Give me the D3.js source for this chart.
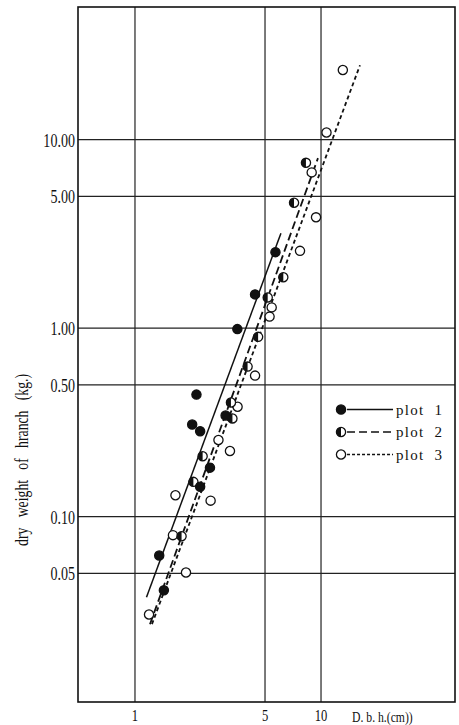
<!DOCTYPE html>
<html>
  <head>
    <meta charset="UTF-8" />
    <script src="https://cdn.jsdelivr.net/npm/d3@7"></script>
    <style>
      body { margin: 0; background: #fff; }
      text { white-space: pre; }
    </style>
  </head>
  <body>
    <svg></svg>
    <script>
      // data: D.b.h. (cm) vs dry weight of branch (kg), log-log
      const xTicks = [1, 5, 10];
      const yTicks = [0.05, 0.1, 0.5, 1, 5, 10];
      const yTickLabels = ['0.05', '0.10', '0.50', '1.00', '5.00', '10.00'];

      // [dbh, weight]
      const plot1 = [
        [5.69, 2.53], [4.42, 1.51], [3.55, 0.988], [2.14, 0.444],
        [3.07, 0.344], [2.03, 0.308], [2.24, 0.284], [2.53, 0.182],
        [2.24, 0.144], [1.35, 0.0622], [1.43, 0.0407]
      ];
      const plot2 = [
        [8.3, 7.53], [7.16, 4.62], [6.27, 1.86], [5.17, 1.455],
        [4.59, 0.899], [4.03, 0.625], [3.28, 0.403], [3.34, 0.332],
        [2.31, 0.209], [2.06, 0.153], [1.78, 0.0788]
      ];
      const plot3 = [
        [13.1, 23.4], [10.7, 10.9], [8.91, 6.7], [9.4, 3.87],
        [7.71, 2.57], [5.43, 1.288], [5.29, 1.151], [4.42, 0.56],
        [3.56, 0.383], [2.81, 0.255], [3.24, 0.223], [1.65, 0.13],
        [2.55, 0.1216], [1.6, 0.0798], [1.88, 0.0506], [1.19, 0.0303]
      ];

      // fitted regression lines, start / end
      const fit1 = [[1.153, 0.0374], [6.09, 3.19]];
      const fit2 = [[1.204, 0.0269], [9.63, 7.98]];
      const fit3 = [[1.234, 0.0269], [16.2, 24.8]];

      const legendNames = ['plot  1', 'plot  2', 'plot  3'];

      // 1. setup
      const width = 459;
      const height = 725;
      const margin = { top: 7, right: 4, bottom: 23, left: 78 };
      const ink = '#111';

      const svg = d3
        .select('svg')
        .attr('width', width)
        .attr('height', height)
        .style('font-family', '"Liberation Serif", "DejaVu Serif", serif');

      const x = d3
        .scaleLog()
        .domain([0.494, 52.5])
        .range([margin.left, width - margin.right]);
      const y = d3
        .scaleLog()
        .domain([0.0104, 50.5])
        .range([height - margin.bottom, margin.top]);

      // 2. grid
      const grid = svg.append('g').attr('stroke', '#222').attr('stroke-width', 1.2);
      grid
        .selectAll('.vx')
        .data(xTicks)
        .join('line')
        .attr('x1', (d) => x(d))
        .attr('x2', (d) => x(d))
        .attr('y1', y.range()[0])
        .attr('y2', y.range()[1]);
      grid
        .selectAll('.hy')
        .data(yTicks)
        .join('line')
        .attr('x1', x.range()[0])
        .attr('x2', x.range()[1])
        .attr('y1', (d) => y(d))
        .attr('y2', (d) => y(d));

      // frame
      svg
        .append('rect')
        .attr('x', x.range()[0])
        .attr('y', y.range()[1])
        .attr('width', x.range()[1] - x.range()[0])
        .attr('height', y.range()[0] - y.range()[1])
        .attr('fill', 'none')
        .attr('stroke', ink)
        .attr('stroke-width', 1.6);

      // 3. tick labels (condensed serif)
      svg
        .append('g')
        .selectAll('text')
        .data(yTicks)
        .join('text')
        .attr('transform', (d) => `translate(${x.range()[0] - 3},${y(d) + 7}) scale(0.74,1)`)
        .attr('text-anchor', 'end')
        .attr('font-size', 19)
        .attr('fill', ink)
        .text((d, i) => yTickLabels[i]);

      svg
        .append('g')
        .selectAll('text')
        .data(xTicks)
        .join('text')
        .attr('transform', (d) => `translate(${x(d)},${height - 4}) scale(0.74,1)`)
        .attr('text-anchor', 'middle')
        .attr('font-size', 17)
        .attr('fill', ink)
        .text((d) => d);

      svg
        .append('text')
        .attr('transform', `translate(${x(10) + 31},${height - 3}) scale(0.78,1)`)
        .attr('font-size', 15)
        .attr('fill', ink)
        .text('D. b. h.(cm))');

      svg
        .append('text')
        .attr('transform', `translate(28,${y(0.2)}) rotate(-90)`)
        .attr('text-anchor', 'middle')
        .attr('font-size', 18)
        .attr('fill', ink)
        .attr('textLength', 172)
        .attr('lengthAdjust', 'spacingAndGlyphs')
        .text('dry   weight   of   hranch   (kg.)');

      // 4. fit lines
      const line = d3
        .line()
        .x((d) => x(d[0]))
        .y((d) => y(d[1]));
      const styles = [
        { dash: null, width: 1.5 },
        { dash: '8,4', width: 1.8 },
        { dash: '4,3', width: 1.8 }
      ];
      svg
        .append('g')
        .attr('fill', 'none')
        .attr('stroke', ink)
        .selectAll('path')
        .data([fit1, fit2, fit3])
        .join('path')
        .attr('d', line)
        .attr('stroke-width', (d, i) => styles[i].width)
        .attr('stroke-dasharray', (d, i) => styles[i].dash);

      // 5. markers
      const r = 4.6;
      function marker(g, kind) {
        g.append('circle')
          .attr('r', r)
          .attr('fill', kind === 0 ? ink : '#fff')
          .attr('stroke', ink)
          .attr('stroke-width', 1.3);
        if (kind === 1)
          g.append('path')
            .attr('d', `M0,${-r}A${r},${r} 0 0 0 0,${r}Z`)
            .attr('fill', ink);
      }
      [plot3, plot2, plot1].forEach((pts, j) => {
        const kind = 2 - j;
        svg
          .append('g')
          .selectAll('g')
          .data(pts)
          .join('g')
          .attr('transform', (d) => `translate(${x(d[0])},${y(d[1])})`)
          .each(function () {
            marker(d3.select(this), kind);
          });
      });

      // 6. legend
      const legend = svg
        .append('g')
        .attr('transform', `translate(${x(10) + 20},${y(0.37)})`);
      const row = legend
        .selectAll('g')
        .data(legendNames)
        .join('g')
        .attr('transform', (d, i) => `translate(0,${i * 22.5})`);
      row.each(function (d, i) {
        marker(d3.select(this), i);
      });
      row
        .append('line')
        .attr('x1', 6)
        .attr('x2', 52)
        .attr('stroke', ink)
        .attr('stroke-width', 1.4)
        .attr('stroke-dasharray', (d, i) => (i === 0 ? null : i === 1 ? '8,4' : '3,2'));
      row
        .append('text')
        .attr('x', 55)
        .attr('y', 5)
        .attr('font-size', 15)
        .attr('fill', ink)
        .attr('textLength', 46)
        .attr('lengthAdjust', 'spacing')
        .text((d) => d);
    </script>
  </body>
</html>
